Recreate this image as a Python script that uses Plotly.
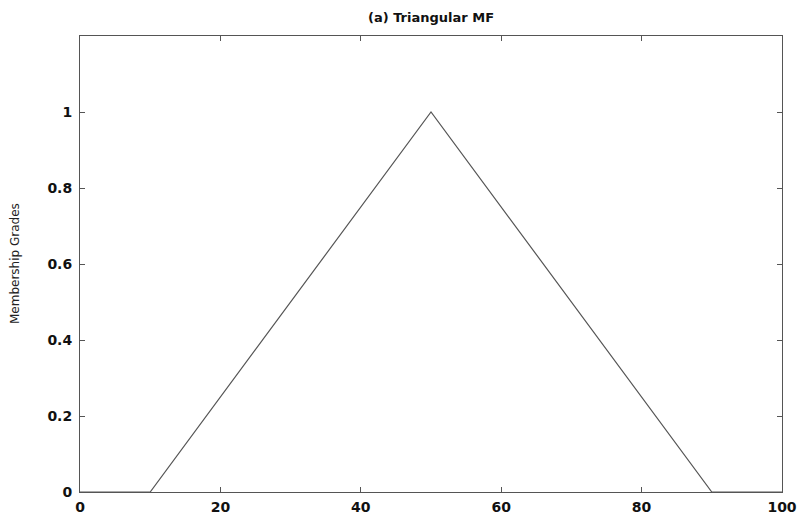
import plotly.graph_objects as go

x_vals = [0, 10, 50, 90, 100]
mf_vals = [0, 0, 1, 0, 0]
x_ticks = [0, 20, 40, 60, 80, 100]
y_ticks = [0, 0.2, 0.4, 0.6, 0.8, 1]
y_tick_text = ["0", "0.2", "0.4", "0.6", "0.8", "1"]

W, H = 798, 518

fig = go.Figure()
fig.add_trace(go.Scatter(x=x_vals, y=mf_vals, mode="lines",
                         line=dict(color="#555555", width=1.2),
                         showlegend=False, hoverinfo="skip", cliponaxis=False))

tick_font = dict(family="DejaVu Sans", size=14, color="#111111")
fig.update_layout(
    width=W, height=H,
    margin=dict(l=80, r=16, t=36, b=26, autoexpand=False),
    paper_bgcolor="white", plot_bgcolor="white",
    title=dict(text="<b>(a) Triangular MF</b>", x=(80 + 702 / 2) / W, xanchor="center",
               y=1 - 17 / H, yanchor="middle",
               font=dict(family="DejaVu Sans", size=13, color="#111111")),
    xaxis=dict(range=[0, 100], tickvals=x_ticks,
               ticktext=["<b>%d</b>" % v for v in x_ticks],
               ticks="inside", ticklen=5, automargin=False,
               ticklabeloverflow="allow",
               tickcolor="#555555", showline=True, linecolor="#555555", linewidth=1,
               mirror="ticks", showgrid=False, zeroline=False,
               tickfont=tick_font, ticklabelstandoff=2),
    yaxis=dict(range=[0, 1.2], tickvals=y_ticks,
               ticktext=["<b>%s</b>" % t for t in y_tick_text],
               ticks="inside", ticklen=5, automargin=False,
               ticklabeloverflow="allow",
               tickcolor="#555555", showline=True, linecolor="#555555", linewidth=1,
               mirror="ticks", showgrid=False, zeroline=False,
               tickfont=tick_font, ticklabelstandoff=4),
    annotations=[dict(text="Membership Grades", xref="paper", yref="paper",
                      x=0, y=0.5, xshift=-65, textangle=-90, showarrow=False,
                      xanchor="center", yanchor="middle",
                      font=dict(family="DejaVu Sans", size=12, color="#222222"))],
)
fig.write_html("out.html", config={"displayModeBar": False},
               post_script="document.body.style.margin='0';document.body.style.overflow='hidden';")
